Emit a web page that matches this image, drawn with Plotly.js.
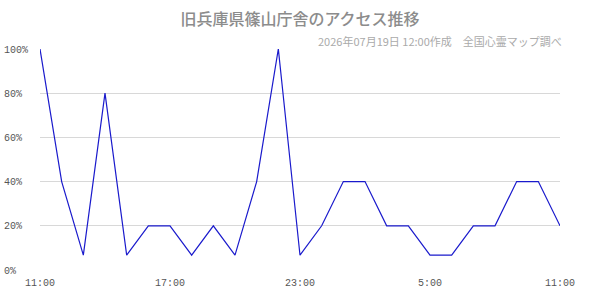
<!DOCTYPE html>
<html>
<head>
<meta charset="utf-8">
<script src="https://cdn.plot.ly/plotly-3.0.1.min.js"></script>
<style>html,body{margin:0;padding:0;background:#fff;}#chart{width:600px;height:300px;}</style>
</head>
<body>
<div id="chart"></div>
<script>
const hours = ["11:00","12:00","13:00","14:00","15:00","16:00","17:00","18:00","19:00","20:00","21:00","22:00","23:00","0:00","1:00","2:00","3:00","4:00","5:00","6:00","7:00","8:00","9:00","10:00","11:00 "];
const accessPct = [100,40,6.7,80,6.7,20,20,6.7,20,6.7,40,100,6.7,20,40,40,20,20,6.7,6.7,20,20,40,40,20];
const xTickLabels = ["11:00","17:00","23:00","5:00","11:00"];
const yTickVals = [0,20,40,60,80,100];
const yTickLabels = ["0%\u00a0\u00a0","20%\u00a0","40%\u00a0","60%\u00a0","80%\u00a0","100%"];
const titleText = "旧兵庫県篠山庁舎のアクセス推移";
const subtitleText = "2026年07月19日 12:00作成　全国心霊マップ調べ";

const xIdx = hours.map((h,i)=>i);
const xTickVals = [0,6,12,18,24];

Plotly.newPlot('chart', [{
  x: xIdx, y: accessPct, type: 'scatter', mode: 'lines',
  line: {color: '#1a1acc', width: 1.2},
  text: hours, hoverinfo: 'text+y'
}], {
  width: 600, height: 300,
  margin: {l: 40, r: 40, t: 49, b: 30},
  paper_bgcolor: '#fff', plot_bgcolor: '#fff',
  showlegend: false,
  title: {text: titleText, x: 0.5, xanchor: 'center', y: 0.935, yanchor: 'middle',
          font: {family: 'Noto Sans CJK JP', size: 16, color: '#8c8c8c', weight: 500}},
  xaxis: {range: [0, 24], tickvals: xTickVals, ticktext: xTickLabels,
          showgrid: false, zeroline: false, showline: false, ticks: '',
          tickfont: {family: 'Liberation Mono', size: 10, color: '#555'}, ticklabelstandoff: 5},
  yaxis: {range: [0, 100], tickvals: yTickVals, ticktext: yTickLabels,
          showgrid: true, gridcolor: '#d8d8d8', gridwidth: 1, zeroline: false, showline: false, ticks: '',
          tickfont: {family: 'Liberation Mono', size: 10, color: '#555'}, ticklabelstandoff: 11},
  annotations: [{text: subtitleText, xref: 'paper', yref: 'paper', x: 1, y: 1, xanchor: 'right', yanchor: 'bottom',
                 xshift: 4, yshift: -2, showarrow: false, font: {family: 'Noto Sans CJK JP', size: 11, color: '#aaa'}}]
}, {staticPlot: true});
</script>
</body>
</html>
